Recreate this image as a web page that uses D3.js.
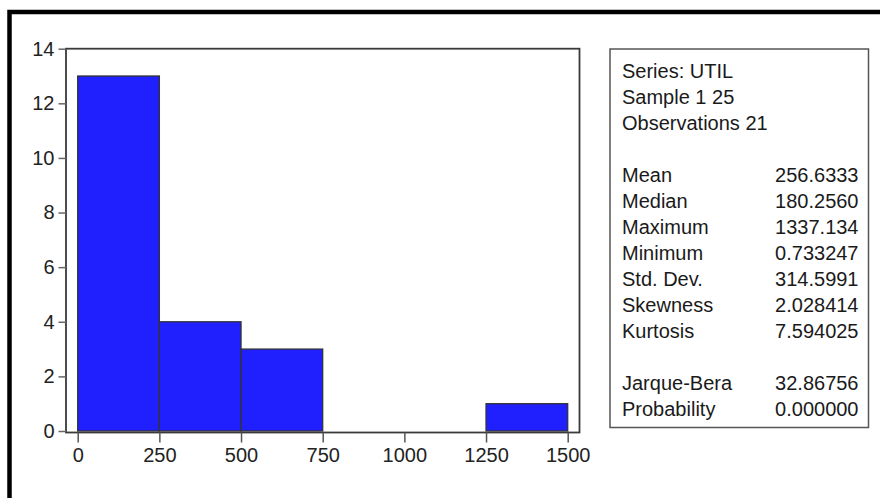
<!DOCTYPE html>
<html>
<head>
<meta charset="utf-8">
<script src="https://cdn.jsdelivr.net/npm/d3@7"></script>
<style>
  html, body { margin: 0; padding: 0; background: #fff; }
  svg { display: block; font-family: "Liberation Sans", Arial, sans-serif; }
</style>
</head>
<body>
<svg id="chart" width="880" height="498"></svg>
<script>
// Histogram of UTIL: bin edges and observation counts per bin
const binEdges = [0, 250, 500, 750, 1000, 1250, 1500];
const binCounts = [13, 4, 3, 0, 0, 1];
const xTicks = [0, 250, 500, 750, 1000, 1250, 1500];
const yTicks = [0, 2, 4, 6, 8, 10, 12, 14];

// Descriptive statistics panel
const headerLines = ["Series: UTIL", "Sample 1 25", "Observations 21"];
const statNames = ["Mean", "Median", "Maximum", "Minimum", "Std. Dev.", "Skewness", "Kurtosis"];
const statValues = ["256.6333", "180.2560", "1337.134", "0.733247", "314.5991", "2.028414", "7.594025"];
const testNames = ["Jarque-Bera", "Probability"];
const testValues = ["32.86756", "0.000000"];

const svg = d3.select("#chart");
const fontSize = 20;
const axisColor = "#3a3a3a";

// Outer window frame (top and left edges)
svg.append("path")
  .attr("d", "M9.5,498 V12 H880")
  .attr("fill", "none")
  .attr("stroke", "#000")
  .attr("stroke-width", 4.5);

const x = d3.scaleLinear().domain([0, 1500]).range([77.7, 567.7]);
const y = d3.scaleLinear().domain([0, 14]).range([431, 48.7]);

const frame = { left: 66, right: 579.5, top: y(14), bottom: y(0) + 1.5 };

const bins = binCounts.map((c, i) => ({ x0: binEdges[i], x1: binEdges[i + 1], count: c }))
  .filter(d => d.count > 0);

// Bars
svg.append("g").selectAll("rect")
  .data(bins)
  .join("rect")
  .attr("x", d => x(d.x0))
  .attr("y", d => y(d.count))
  .attr("width", d => x(d.x1) - x(d.x0))
  .attr("height", d => y(0) - y(d.count))
  .attr("fill", "#2020ff")
  .attr("stroke", "#333")
  .attr("stroke-width", 1.3);

// Plot frame
svg.append("rect")
  .attr("x", frame.left)
  .attr("y", frame.top)
  .attr("width", frame.right - frame.left)
  .attr("height", frame.bottom - frame.top)
  .attr("fill", "none")
  .attr("stroke", axisColor)
  .attr("stroke-width", 1.8);

// Y axis
const yAxis = svg.append("g")
  .attr("transform", `translate(${frame.left},0)`)
  .call(d3.axisLeft(y).tickValues(yTicks).tickSize(7.5).tickPadding(4).tickFormat(d3.format("d")));
yAxis.select(".domain").remove();
yAxis.selectAll("line").attr("stroke", "#666").attr("stroke-width", 1.5);
yAxis.selectAll("text")
  .attr("fill", "#222")
  .style("font-size", fontSize + "px")
  .style("font-family", "'Liberation Sans', Arial, sans-serif");

// X axis
const xAxis = svg.append("g")
  .attr("transform", `translate(0,${frame.bottom})`)
  .call(d3.axisBottom(x).tickValues(xTicks).tickSize(10).tickPadding(5).tickFormat(d3.format("d")));
xAxis.select(".domain").remove();
xAxis.selectAll("line").attr("stroke", "#555").attr("stroke-width", 1.5);
xAxis.selectAll("text")
  .attr("fill", "#222")
  .style("font-size", fontSize + "px")
  .style("font-family", "'Liberation Sans', Arial, sans-serif");

// Statistics box
const box = { x: 610, y: 49, w: 258.5, h: 378.5 };
svg.append("rect")
  .attr("x", box.x).attr("y", box.y)
  .attr("width", box.w).attr("height", box.h)
  .attr("fill", "#fff")
  .attr("stroke", "#555")
  .attr("stroke-width", 1.5);

const textLeft = 622;
const textRight = 858.5;
const firstBaseline = 78;
const lineStep = 26;

const rows = [];
headerLines.forEach(t => rows.push({ name: t, value: "" }));
rows.push(null);
statNames.forEach((n, i) => rows.push({ name: n, value: statValues[i] }));
rows.push(null);
testNames.forEach((n, i) => rows.push({ name: n, value: testValues[i] }));

const rowG = svg.append("g")
  .style("font-size", fontSize + "px")
  .attr("fill", "#1a1a1a");

rows.forEach((r, i) => {
  if (!r) return;
  const by = firstBaseline + i * lineStep;
  rowG.append("text").attr("x", textLeft).attr("y", by).text(r.name);
  if (r.value) {
    rowG.append("text").attr("x", textRight).attr("y", by)
      .attr("text-anchor", "end").text(r.value);
  }
});
</script>
</body>
</html>
